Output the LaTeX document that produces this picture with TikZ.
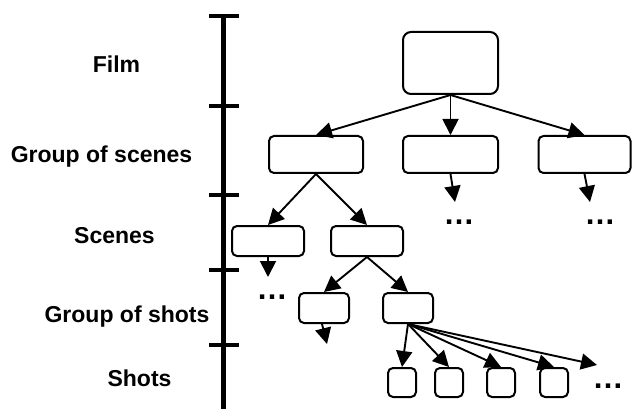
\documentclass[tikz,border=0pt]{standalone}
\usepackage{fontspec}
\setmainfont{Liberation Sans}
\usetikzlibrary{arrows.meta}
\begin{document}
\begin{tikzpicture}[x=1pt,y=-1pt,
  box/.style={draw=black,line width=2pt,rounded corners=5pt,inner sep=0pt,fill=white},
  conn/.style={line width=1.9pt,-{Triangle[length=16pt,width=16pt]}},
  level/.style={font=\fontsize{23}{27}\selectfont\bfseries,anchor=base,inner sep=0pt},
  more/.style={font=\fontsize{31}{31}\selectfont\bfseries,anchor=base,inner sep=0pt},
  axis/.style={line width=4.5pt},
  tick/.style={line width=4pt}]
\useasboundingbox (0,0) rectangle (632,409);

% level axis with tick marks
\draw[axis] (223.5,14) -- (223.5,409);
\foreach \yy in {16,106,195,270,345}
  \draw[tick] (209,\yy) -- (239,\yy);

% level names
\node[level] (lfilm)   at (116.5,73)  {Film};
\node[level] (lgscene) at (101.5,163) {Group of scenes};
\node[level] (lscene)  at (114.5,243) {Scenes};
\node[level] (lgshot)  at (127,322)   {Group of shots};
\node[level] (lshot)   at (139.5,386) {Shots};

% film
\node[box,rounded corners=8pt,minimum width=95pt,minimum height=62pt] (film) at (450.5,63) {};
% groups of scenes
\node[box,minimum width=94pt,minimum height=37pt] (gs1) at (316,154.5) {};
\node[box,minimum width=95pt,minimum height=37pt] (gs2) at (450.5,154.5) {};
\node[box,minimum width=92pt,minimum height=37pt] (gs3) at (584.5,154.5) {};
% scenes
\node[box,minimum width=72pt,minimum height=30pt] (sc1) at (268,241) {};
\node[box,minimum width=72pt,minimum height=30pt] (sc2) at (367,241) {};
% groups of shots
\node[box,minimum width=50pt,minimum height=30pt] (gh1) at (324,308) {};
\node[box,minimum width=50pt,minimum height=30pt] (gh2) at (408,308) {};
% shots
\foreach \n/\xx in {1/402,2/449,3/501,4/554}
  \node[box,minimum width=28pt,minimum height=29pt] (sh\n) at (\xx,382.5) {};

% loose ends
\coordinate (e2) at (455,202);
\coordinate (e3) at (590,202);
\coordinate (e4) at (268,277);
\coordinate (e5) at (327,344);
\coordinate (e6) at (597,365);

% ellipses
\node[more] (m2) at (459,224) {…};
\node[more] (m3) at (600,224) {…};
\node[more] (m4) at (272,299) {…};
\node[more] (m6) at (608,388) {…};

% connectors
\draw[conn] (film.south) -- (gs1.north);
\draw[conn] (film.south) -- (gs2.north);
\draw[conn] (film.south) -- (gs3.north);
\draw[conn] (gs2.south) -- (e2);
\draw[conn] (gs3.south) -- (e3);
\draw[conn] (gs1.south) -- (sc1.north);
\draw[conn] (gs1.south) -- (sc2.north);
\draw[conn] (sc1.south) -- (e4);
\draw[conn] (sc2.south) -- (gh1.north);
\draw[conn] (sc2.south) -- (gh2.north);
\draw[conn] ([xshift=-2pt]gh1.south) -- (e5);
\foreach \n in {1,2,3,4}
  \draw[conn] (gh2.south) -- (sh\n.north);
\draw[conn] (gh2.south) -- (e6);
\end{tikzpicture}
\end{document}
